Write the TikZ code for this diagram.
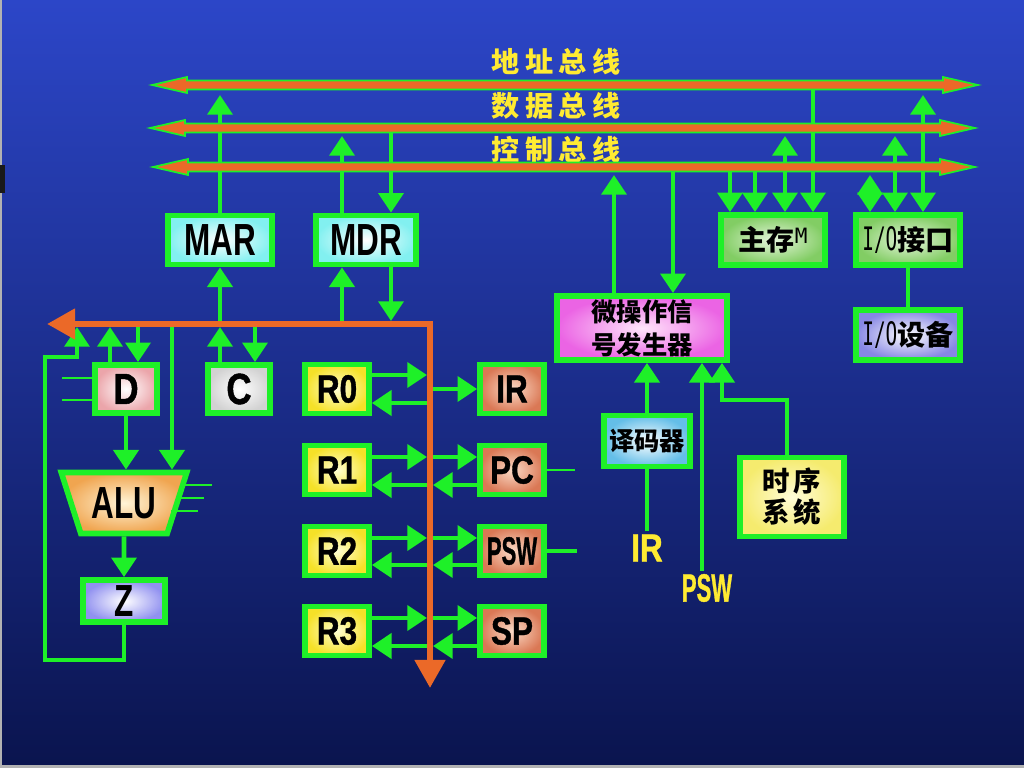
\documentclass[tikz,border=0pt]{standalone}
\usepackage{fontspec}
\usepackage{graphicx}
\usetikzlibrary{arrows.meta,shapes.geometric}
\newfontfamily\cjk{Noto Sans CJK SC}
\newfontfamily\lblfont{Liberation Sans}[FakeStretch=0.7]
\newfontfamily\regfont{Liberation Sans}[FakeStretch=0.8,FakeBold=1]
\newfontfamily\iofont{DejaVu Sans Mono}[FakeStretch=0.6]
\newfontfamily\monofont{DejaVu Sans Mono}
\newcommand{\px}{0.025cm}
\newcommand{\io}{{\iofont\mdseries\fontsize{23}{24}\selectfont I/O}}
\newcommand{\sysbus}[4]{%
  \coordinate (#1) at (0,#4);
  \filldraw[sysbus] (#2,#4) -- (#2+35,#4-8) -- (#2+35,#4-4.5) -- (#3-35,#4-4.5) -- (#3-35,#4-8) -- (#3,#4)
    -- (#3-35,#4+8) -- (#3-35,#4+4.5) -- (#2+35,#4+4.5) -- (#2+35,#4+8) -- cycle;}
\definecolor{bgtop}{RGB}{44,70,200}
\definecolor{bgmid}{RGB}{22,42,140}
\definecolor{bgbot}{RGB}{10,20,78}
\definecolor{lgreen}{RGB}{30,240,40}
\definecolor{busorange}{RGB}{235,105,40}
\definecolor{lblyellow}{RGB}{255,235,50}
\definecolor{marcyan}{RGB}{130,240,240}
\definecolor{memout}{RGB}{130,205,100}
\definecolor{memin}{RGB}{230,245,220}
\definecolor{uopout}{RGB}{235,100,228}
\definecolor{uopin}{RGB}{255,230,250}
\definecolor{decout}{RGB}{100,190,232}
\definecolor{timout}{RGB}{245,235,110}
\definecolor{timin}{RGB}{255,252,215}
\definecolor{dout}{RGB}{235,165,170}
\definecolor{cout}{RGB}{210,210,210}
\definecolor{regout}{RGB}{245,225,40}
\definecolor{regin}{RGB}{255,255,210}
\definecolor{sprout}{RGB}{218,120,85}
\definecolor{sprin}{RGB}{250,218,198}
\definecolor{aluout}{RGB}{240,165,80}
\definecolor{aluin}{RGB}{255,245,215}
\definecolor{zout}{RGB}{145,145,240}
\definecolor{iodout}{RGB}{135,135,228}

\begin{document}
\begin{tikzpicture}[x=\px,y=-\px]
\shade[top color=bgtop, middle color=bgmid, bottom color=bgbot] (0,0) rectangle (1024,768);
\useasboundingbox (0,0) rectangle (1024,768);
\fill[gray!60] (0,0) rectangle (2,768);
\fill[gray!60] (0,765) rectangle (1024,768);
\fill[black!90] (0,165) rectangle (5,193);

\tikzstyle{box}=[draw=lgreen, line width=4pt, rectangle, inner sep=0pt, text=black]
\tikzstyle{bigtxt}=[font=\lblfont\bfseries\fontsize{32}{34}\selectfont]
\tikzstyle{regtxt}=[font=\regfont\bfseries\fontsize{28}{30}\selectfont]
\tikzstyle{cjktxt}=[font=\cjk\bfseries\fontsize{20}{22}\selectfont]
\tikzstyle{regbox}=[box, regtxt, minimum width=64*\px, minimum height=49*\px]
\tikzstyle{garrow}=[draw=lgreen, line width=3.5pt, -{Triangle[length=14pt,width=17.5pt]}]
\tikzstyle{gboth}=[draw=lgreen, line width=3.5pt, {Triangle[length=14pt,width=17.5pt]}-{Triangle[length=14pt,width=17.5pt]}]
\tikzstyle{gline}=[draw=lgreen, line width=3.5pt]
\tikzstyle{gthin}=[draw=lgreen, line width=2pt]
\tikzstyle{ibus}=[draw=busorange, line width=4.5pt, {Triangle[length=20pt,width=21pt]}-{Triangle[length=20pt,width=21pt]}]
\tikzstyle{sysbus}=[fill=busorange, draw=lgreen, line width=1.2pt]
\tikzstyle{buslbl}=[text=lblyellow, font=\cjk\bfseries\fontsize{20}{22}\selectfont\addfontfeature{LetterSpace=20}]
\tikzstyle{inlbl}=[text=lblyellow, inner sep=2pt, font=\regfont\bfseries\fontsize{28}{30}\selectfont]
\tikzstyle{alubox}=[trapezium, shape border rotate=180, trapezium angle=65, trapezium stretches=true,
  draw=lgreen, line width=4pt, inner sep=0pt, minimum width=126*\px, minimum height=61*\px,
  inner color=aluin, outer color=aluout, bigtxt]

% bus labels
\node[buslbl] (alabel) at (556,62) {地址总线};
\node[buslbl] (dlabel) at (556,106) {数据总线};
\node[buslbl] (clabel) at (556,150) {控制总线};

% boxes
\node[box, bigtxt, inner color=white, outer color=marcyan, minimum width=104*\px, minimum height=49*\px] (mar) at (220,240) {MAR};
\node[box, bigtxt, inner color=white, outer color=marcyan, minimum width=100*\px, minimum height=49*\px] (mdr) at (366,240) {MDR};
\node[box, cjktxt, inner color=memin, outer color=memout, minimum width=104*\px, minimum height=50*\px] (mem) at (773,240)
  {主存\raisebox{5pt}{\monofont\mdseries\fontsize{15}{15}\selectfont M}};
\node[box, cjktxt, inner color=memin, outer color=memout, minimum width=104*\px, minimum height=50*\px] (ioif) at (908,240) {\io 接口};
\node[box, cjktxt, inner color=white, outer color=iodout, minimum width=104*\px, minimum height=50*\px] (iodev) at (908,335) {\io 设备};
\node[box, font=\cjk\bfseries\fontsize{18}{23.5}\selectfont, align=center, inner color=uopin, outer color=uopout,
  minimum width=170*\px, minimum height=64*\px] (uop) at (642,328) {微操作信\\号发生器};
\node[box, font=\cjk\bfseries\fontsize{18}{20}\selectfont, inner color=white, outer color=decout,
  minimum width=86*\px, minimum height=51*\px] (dec) at (647,441) {译码器};
\node[box, font=\cjk\bfseries\fontsize{19.5}{22}\selectfont\addfontfeature{LetterSpace=12}, align=center, inner color=timin, outer color=timout,
  minimum width=104*\px, minimum height=79*\px] (tim) at (792,497) {时序\\系统};

\node[regbox, font=\regfont\bfseries\fontsize{31}{32}\selectfont, inner color=white, outer color=dout, minimum width=62*\px, minimum height=48*\px] (regD) at (126,389) {D};
\node[regbox, font=\regfont\bfseries\fontsize{31}{32}\selectfont, inner color=white, outer color=cout, minimum width=62*\px, minimum height=48*\px] (regC) at (239,389) {C};
\node[alubox] (alu) at (124,503) {ALU};
\node[box, bigtxt, inner color=white, outer color=zout, minimum width=82*\px, minimum height=42*\px] (z) at (124,601) {Z};

\node[regbox, inner color=regin, outer color=regout] (r0) at (337,389) {R0};
\node[regbox, inner color=regin, outer color=regout] (r1) at (337,470) {R1};
\node[regbox, inner color=regin, outer color=regout] (r2) at (337,551) {R2};
\node[regbox, inner color=regin, outer color=regout] (r3) at (337,631) {R3};
\node[regbox, inner color=sprin, outer color=sprout] (ir) at (512,389) {IR};
\node[regbox, inner color=sprin, outer color=sprout] (pc) at (512,470) {PC};
\node[regbox, inner color=sprin, outer color=sprout] (psw) at (512,551) {\scalebox{0.7}[1]{PSW}};
\node[regbox, inner color=sprin, outer color=sprout] (sp) at (512,631) {SP};

\node[inlbl] (irin) at (647,548) {IR};
\node[inlbl] (pswin) at (707,588) {\scalebox{0.7}[1]{PSW}};

% bus edges
\coordinate (abusb) at (0,95);
\coordinate (dbusb) at (0,136);
\coordinate (cbusb) at (0,175);
\coordinate (abus) at (0,85);
\coordinate (dbus) at (0,128);
\coordinate (cbus) at (0,167);
\coordinate (ibL) at (47,324);
\coordinate (ibC) at (430,324);
\coordinate (ibD) at (430,688);
\coordinate (ibLe) at (427,324);
\coordinate (ibRe) at (433,324);
\coordinate (ibT) at (430,321);
\coordinate (ibB) at (430,327);

% MAR, MDR
\draw[garrow] (mar.north) -- (mar.north |- abusb);
\draw[garrow] (mar.south |- ibC) -- (mar.south);
\coordinate (mdrU) at ([xshift=-24*\px]mdr.north);
\coordinate (mdrD) at ([xshift=25*\px]mdr.north);
\draw[garrow] (mdrU) -- (mdrU |- dbusb);
\draw[garrow] (mdrD |- dbus) -- (mdrD);
\draw[garrow] (mdrU |- ibC) -- (mdrU |- mdr.south);
\draw[garrow] (mdrD |- mdr.south) -- (mdrD |- ibT);

% C, D, ALU, Z
\coordinate (cU) at (mar.south |- regC.north);
\coordinate (cD) at ([xshift=16*\px]regC.north);
\draw[garrow] (cU) -- (cU |- ibB);
\draw[garrow] (cD |- ibC) -- (cD);
\coordinate (dU) at ([xshift=-16*\px]regD.north);
\coordinate (dD) at ([xshift=12*\px]regD.north);
\draw[garrow] (dU) -- (dU |- ibB);
\draw[garrow] (dD |- ibC) -- (dD);
\coordinate (aluB) at (172,324);
\draw[garrow] (aluB) -- (aluB |- alu.north);
\draw[garrow] (regD.south) -- (regD.south |- alu.north);
\draw[garrow] (alu.south) -- (z.north);
\coordinate (loopA) at (45,660);
\coordinate (loopB) at (45,357);
\coordinate (loopC) at (77,357);
\draw[garrow, line width=3pt] (z.south) |- (loopA) -- (loopB) -- (loopC) -- (loopC |- ibB);
\coordinate (din1) at (62,378);
\coordinate (din2) at (62,400);
\draw[gthin] (din1) -- (din1 -| regD.west);
\draw[gthin] (din2) -- (din2 -| regD.west);
\coordinate (af1) at (183,485);
\coordinate (af1e) at (212,485);
\coordinate (af2) at (177,498);
\coordinate (af2e) at (204,498);
\coordinate (af3) at (171,511);
\coordinate (af3e) at (198,511);
\draw[gthin] (af1) -- (af1e);
\draw[gthin] (af2) -- (af2e);
\draw[gthin] (af3) -- (af3e);

% registers
\coordinate (r0a) at ([yshift=14*\px]r0.east);
\coordinate (r0b) at ([yshift=-14*\px]r0.east);
\draw[garrow] (r0a) -- (r0a -| ibLe);
\draw[garrow] (r0b -| ibC) -- (r0b);
\draw[garrow] (ir.west -| ibC) -- (ir.west);

\coordinate (r1a) at ([yshift=13*\px]r1.east);
\coordinate (r1b) at ([yshift=-15*\px]r1.east);
\draw[garrow] (r1a) -- (r1a -| ibLe);
\draw[garrow] (r1a -| ibC) -- (r1a -| pc.west);
\draw[garrow] (r1b -| pc.west) -- (r1b -| ibRe);
\draw[garrow] (r1b -| ibC) -- (r1b);

\coordinate (r2a) at ([yshift=13*\px]r2.east);
\coordinate (r2b) at ([yshift=-14*\px]r2.east);
\draw[garrow] (r2a) -- (r2a -| ibLe);
\draw[garrow] (r2a -| ibC) -- (r2a -| psw.west);
\draw[garrow] (r2b -| psw.west) -- (r2b -| ibRe);
\draw[garrow] (r2b -| ibC) -- (r2b);

\coordinate (r3a) at ([yshift=13*\px]r3.east);
\coordinate (r3b) at ([yshift=-15*\px]r3.east);
\draw[garrow] (r3a) -- (r3a -| ibLe);
\draw[garrow] (r3a -| ibC) -- (r3a -| sp.west);
\draw[garrow] (r3b -| sp.west) -- (r3b -| ibRe);
\draw[garrow] (r3b -| ibC) -- (r3b);

\coordinate (pcR) at (575,470);
\coordinate (pswR) at (577,551);
\draw[gthin] (pc.east) -- (pcR);
\draw[gline, line width=2.5pt] (psw.east) -- (pswR);

% control unit
\coordinate (uU) at ([xshift=-28*\px]uop.north);
\coordinate (uD) at ([xshift=31*\px]uop.north);
\draw[garrow] (uU) -- (uU |- cbusb);
\draw[garrow] (uD |- cbus) -- (uD);
\draw[garrow] (dec.north) -- (dec.north |- uop.south);
\draw[gline] (irin.north) -- (dec.south);
\coordinate (pswL) at ([xshift=-5*\px]pswin.north);
\draw[garrow] (pswL) -- (pswL |- uop.south);
\coordinate (tA) at ([xshift=-5*\px]tim.north);
\coordinate (tU) at (722,400);
\draw[garrow] (tA) |- (tU) -- (tU |- uop.south);

% memory and I/O
\coordinate (m1) at ([xshift=-43*\px]mem.north);
\coordinate (m2) at ([xshift=-18*\px]mem.north);
\coordinate (m3) at ([xshift=12*\px]mem.north);
\coordinate (m4) at ([xshift=40*\px]mem.north);
\draw[garrow] (m1 |- cbus) -- (m1);
\draw[garrow] (m2 |- cbus) -- (m2);
\draw[gboth] (m3 |- dbusb) -- (m3);
\draw[garrow] (m4 |- abus) -- (m4);
\coordinate (io1) at ([xshift=-38*\px]ioif.north);
\coordinate (io2) at ([xshift=-13*\px]ioif.north);
\coordinate (io3) at ([xshift=15*\px]ioif.north);
\draw[gboth] (io1 |- cbusb) -- (io1);
\draw[gboth] (io2 |- dbusb) -- (io2);
\draw[gboth] (io3 |- abusb) -- (io3);
\draw[gline] (ioif.south) -- (iodev.north);

% buses
\sysbus{abusl}{152}{978}{85}
\sysbus{dbusl}{150}{975}{128}
\sysbus{cbusl}{153}{975}{167}
\draw[ibus] (ibL) -- (ibC) -- (ibD);
\end{tikzpicture}
\end{document}
